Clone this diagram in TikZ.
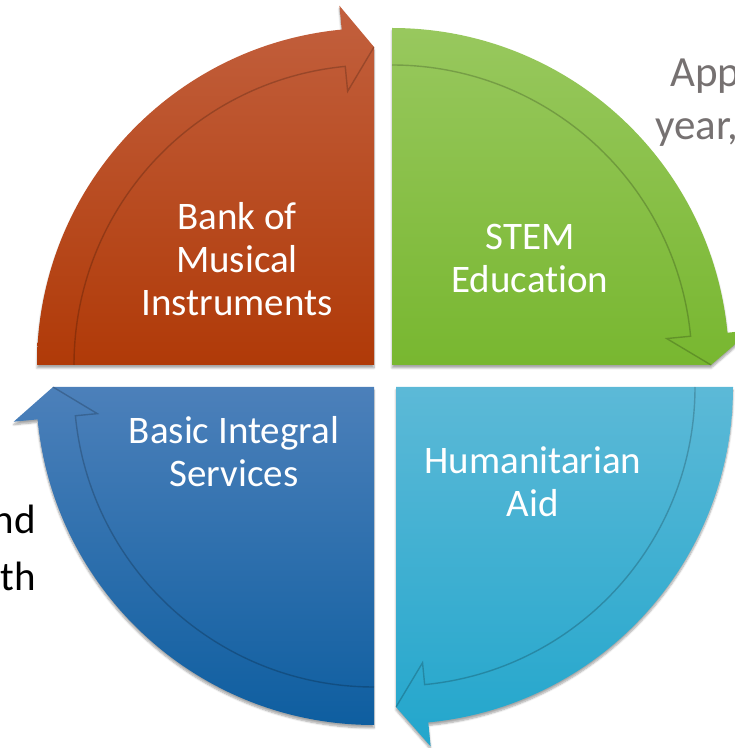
\documentclass[tikz,border=0pt]{standalone}
\usepackage{fontspec}
\setmainfont{Carlito}[Ligatures=NoCommon]
\usetikzlibrary{shadows.blur}
\definecolor{rojoarriba}{RGB}{194,96,62}
\definecolor{rojoabajo}{RGB}{176,58,8}
\definecolor{verdearriba}{RGB}{152,200,94}
\definecolor{verdeabajo}{RGB}{120,183,48}
\definecolor{azularriba}{RGB}{76,128,186}
\definecolor{azulabajo}{RGB}{14,94,160}
\definecolor{celestearriba}{RGB}{92,185,215}
\definecolor{celesteabajo}{RGB}{34,166,204}
\definecolor{textogris}{RGB}{118,113,113}

\begin{document}
\begin{tikzpicture}[x=1pt, y=1pt,
    sector/.style={blur shadow={shadow xshift=0pt, shadow yshift=-3pt, shadow blur steps=6, shadow opacity=35}},
    surco/.style={black, opacity=0.2, line width=1.4pt},
    etiqueta/.style={text=white, align=center, inner sep=0pt, font=\fontsize{39}{43}\selectfont},
    margen/.style={inner sep=0pt, font=\fontsize{43}{53}\selectfont}]
    \useasboundingbox (0,0) rectangle (735,748);
    \clip (0,0) rectangle (735,748);

    % Banco de instrumentos
    \begin{scope}[shift={(374,383)}]
        \shade[sector, top color=rojoarriba, bottom color=rojoabajo] (0,0) -- (180:337pt) arc[start angle=180, end angle=95.5, radius=337pt] -- (95.5:361pt) -- (90:318pt) -- cycle;
        \draw[surco] (180:300pt) arc[start angle=180, end angle=95.5, radius=300pt] -- (95.5:275pt) -- (90:318pt);
    \end{scope}

    % Educacion STEM
    \begin{scope}[shift={(392,383)}]
        \shade[sector, top color=verdearriba, bottom color=verdeabajo] (0,0) -- (90:337pt) arc[start angle=90, end angle=5.5, radius=337pt] -- (5.5:361pt) -- (0:319pt) -- cycle;
        \draw[surco] (90:300pt) arc[start angle=90, end angle=5.5, radius=300pt] -- (5.5:276pt) -- (0:319pt);
    \end{scope}

    % Servicios basicos
    \begin{scope}[shift={(374,361)}]
        \shade[sector, top color=azularriba, bottom color=azulabajo] (0,0) -- (270:338pt) arc[start angle=270, end angle=185.5, radius=338pt] -- (185.5:362pt) -- (180:321pt) -- cycle;
        \draw[surco] (270:300pt) arc[start angle=270, end angle=185.5, radius=300pt] -- (185.5:278pt) -- (180:321pt);
    \end{scope}

    % Ayuda humanitaria
    \begin{scope}[shift={(396,361)}]
        \shade[sector, top color=celestearriba, bottom color=celesteabajo] (0,0) -- (0:337pt) arc[start angle=360, end angle=275.5, radius=337pt] -- (275.5:361pt) -- (270:320pt) -- cycle;
        \draw[surco] (0:299pt) arc[start angle=360, end angle=275.5, radius=299pt] -- (275.5:277pt) -- (270:320pt);
    \end{scope}

    % Textos de los sectores
    \node[etiqueta] (banco) at (237,489) {Bank of\\Musical\\Instruments};
    \node[etiqueta] (stem) at (530,490) {STEM\\Education};
    \node[etiqueta] (basicos) at (234,296) {Basic Integral\\Services};
    \node[etiqueta] (ayuda) at (533,266) {Humanitarian\\Aid};

    % Texto de la diapositiva
    \node[margen, text=textogris, anchor=base west] (app) at (670,661) {App};
    \node[margen, text=textogris, anchor=base west] (year) at (655,608) {year,};
    \node[margen, font=\fontsize{41}{53}\selectfont, anchor=base east] (nd) at (36,214) {nd};
    \node[margen, font=\fontsize{41}{53}\selectfont, anchor=base east] (th) at (36,157) {th};
\end{tikzpicture}
\end{document}
